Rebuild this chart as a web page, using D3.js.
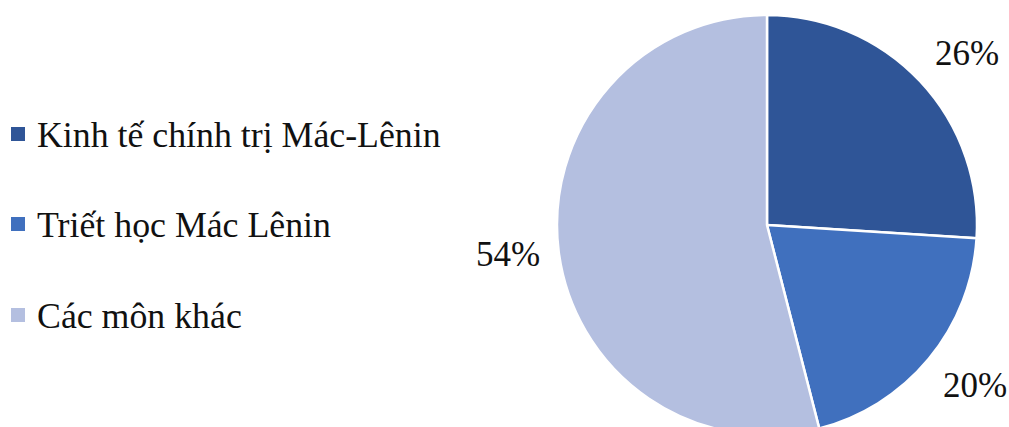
<!DOCTYPE html>
<html><head><meta charset="utf-8">
<script src="https://cdn.jsdelivr.net/npm/d3@7"></script>
<style>body{margin:0;background:#fff}svg{display:block}
text{font-family:"Liberation Serif","Times New Roman",Tinos,"DejaVu Serif",serif}</style>
</head><body>
<script>
const categories = ["Kinh tế chính trị Mác-Lênin", "Triết học Mác Lênin", "Các môn khác"];
const values = [26, 20, 54];
const labels = ["26%", "20%", "54%"];
const colors = ["#2f5597", "#4070be", "#b4bfe0"];

const W = 1009, H = 427;
const svg = d3.select("body").append("svg").attr("width", W).attr("height", H);
const cx = 767, cy = 225, r = 210;
const data = categories.map((c, i) => ({c, v: values[i], l: labels[i], col: colors[i]}));
const pie = d3.pie().value(d => d.v).sort(null);
const arc = d3.arc().innerRadius(0).outerRadius(r);
const g = svg.append("g").attr("transform", `translate(${cx},${cy})`);
const arcs = pie(data);
g.selectAll("path").data(arcs).join("path")
  .attr("d", arc).attr("fill", d => d.data.col)
  .attr("stroke", "#fff").attr("stroke-width", 2.5).attr("stroke-linejoin", "round");

const labelPos = [[967, 65], [975, 397], [508, 266]];
svg.selectAll("text.lbl").data(arcs).join("text").attr("class", "lbl")
  .attr("x", (d, i) => labelPos[i][0]).attr("y", (d, i) => labelPos[i][1])
  .attr("text-anchor", "middle")
  .attr("font-size", 35).attr("fill", "#111")
  .text(d => d.data.l);

const leg = svg.append("g");
const rowY = [134, 224, 315];
data.forEach((d, i) => {
  leg.append("rect").attr("x", 11).attr("y", rowY[i] - 7).attr("width", 14).attr("height", 14).attr("fill", d.col);
  leg.append("text").attr("x", 37).attr("y", rowY[i] + 12.5)
    .attr("font-size", 35.8).attr("fill", "#111").text(d.c);
});
</script>
</body></html>
